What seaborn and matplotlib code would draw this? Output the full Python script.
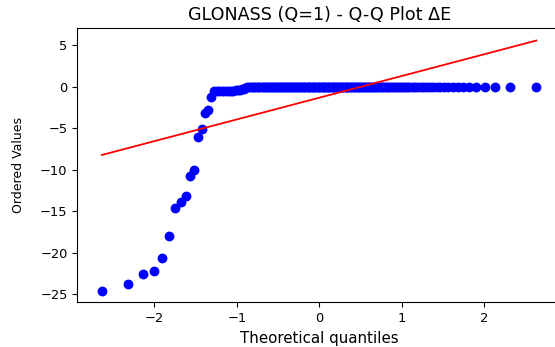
import numpy as np
import matplotlib
matplotlib.use('Agg')
import matplotlib.pyplot as plt
import seaborn as sns
from statistics import NormalDist

# Valores ordenados de ΔE (GLONASS, Q=1)
cauda_negativa = [-24.6, -23.8, -22.6, -22.2, -20.6, -18.0, -14.6, -13.9, -13.2,
                  -10.8, -10.0, -6.0, -5.1, -3.2, -2.8, -1.2]
quase_zero = [-0.5, -0.5, -0.5, -0.5, -0.5, -0.5, -0.5, -0.5, -0.5,
              -0.4, -0.4, -0.4, -0.3, -0.3, -0.1]
n_zeros = 134
zeros = [0.0] * n_zeros

valores = np.array(cauda_negativa + quase_zero + zeros)
n = len(valores)

# Quantis teóricos (posições de Filliben, como no probplot)
m = np.empty(n)
m[-1] = 0.5 ** (1.0 / n)
m[0] = 1 - m[-1]
m[1:-1] = (np.arange(2, n) - 0.3175) / (n + 0.365)
quantis = np.array([NormalDist().inv_cdf(p) for p in m])

fig = plt.figure(figsize=(5.55, 3.47), dpi=100)
ax = fig.add_axes([0.1393, 0.1288, 0.8715, 0.7896])

sns.regplot(x=quantis, y=valores, ax=ax, ci=None, color='blue',
            scatter_kws=dict(s=50, linewidths=0, alpha=1),
            line_kws=dict(color='red', lw=1.3))

ax.set_xlim(-2.935, 2.935)
ax.set_ylim(-25.98, 7.04)
ax.set_xticks([-2, -1, 0, 1, 2])
ax.set_yticks([5, 0, -5, -10, -15, -20, -25])
ax.tick_params(labelsize=9.4)
ax.set_title('GLONASS (Q=1) - Q-Q Plot ΔE', fontsize=12.6)
ax.set_xlabel('Theoretical quantiles', fontsize=10.8)
ax.set_ylabel('Ordered Values', fontsize=9, labelpad=11)

plt.savefig('out.png', dpi=100)
plt.close()
